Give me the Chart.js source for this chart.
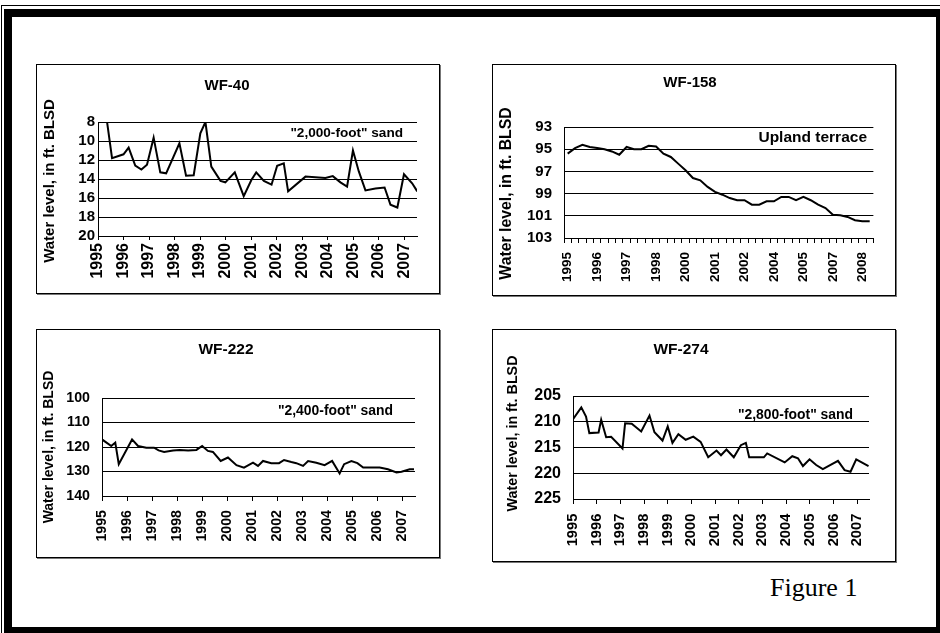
<!DOCTYPE html>
<html>
<head>
<meta charset="utf-8">
<script src="https://cdn.jsdelivr.net/npm/chart.js@4.4.1/dist/chart.umd.min.js"></script>
<style>
  body { margin:0; background:#fff; width:940px; height:633px; overflow:hidden; position:relative; }
  .frameThin { position:absolute; left:1px; top:5px; width:960px; height:700px; border:1px solid #000; }
  .frameThick { position:absolute; left:4px; top:9px; width:940px; height:626px; border:8px solid #000; box-sizing:border-box; }
  .chartBox { position:absolute; border:1px solid #000; box-shadow:1px 1px 0 #777; box-sizing:border-box; background:#fff; }
  .chartBox canvas { display:block; }
  .figLabel { position:absolute; left:770px; top:575px; font-family:"Liberation Serif","Times New Roman",serif; font-size:26px; line-height:26px; }
</style>
</head>
<body>
<div class="frameThin"></div>
<div class="frameThick"></div>
<div class="figLabel">Figure 1</div>
<script>
//-----------------------------------------------------------------------------
// water levels (ft below land surface)
//-----------------------------------------------------------------------------
const wf40Years  = [1995.0, 1995.17, 1995.35, 1995.55, 1996.0, 1996.2, 1996.46, 1996.7, 1996.92, 1997.18, 1997.44, 1997.67,
                    1998.19, 1998.45, 1998.75, 1999.01, 1999.21, 1999.44, 1999.8, 1999.99, 2000.36, 2000.71, 2001.01, 2001.2,
                    2001.5, 2001.8, 2002.02, 2002.28, 2002.45, 2003.13, 2003.91, 2004.2, 2004.5, 2004.76, 2004.99, 2005.22,
                    2005.48, 2005.87, 2006.23, 2006.46, 2006.73, 2006.99, 2007.31, 2007.51];
const wf40Levels = [8.15, 6.5, 7.9, 11.8, 11.4, 10.7, 12.6, 13.0, 12.5, 9.65, 13.3, 13.4,
                    10.25, 13.65, 13.6, 9.2, 8.0, 12.7, 14.2, 14.35, 13.3, 15.8, 14.1, 13.3,
                    14.2, 14.6, 12.6, 12.35, 15.3, 13.75, 13.9, 13.7, 14.35, 14.8, 11.0, 13.2,
                    15.2, 15.0, 14.9, 16.7, 17.0, 13.5, 14.45, 15.3];

const wf158Labels = ['1995','1995','1995','1995','1996','1996','1996','1996','1997','1997','1997','1997',
                     '1998','1998','1999','1999','2000','2000','2000','2000','2001','2001','2001','2001',
                     '2002','2002','2003','2003','2004','2004','2004','2004','2005','2005','2006','2006',
                     '2007','2007','2007','2007','2008','2008'];
const wf158Levels = [95.4, 94.9, 94.6, 94.8, 94.9, 95.0, 95.2, 95.5, 94.8, 95.0, 95.0, 94.7,
                     94.75, 95.4, 95.7, 96.3, 96.9, 97.6, 97.8, 98.4, 98.85, 99.1, 99.4, 99.6,
                     99.6, 100.0, 100.0, 99.7, 99.7, 99.3, 99.3, 99.6, 99.3, 99.6, 100.0, 100.3,
                     100.9, 100.95, 101.1, 101.4, 101.5, 101.5];

const wf222Years  = [1995.0, 1995.37, 1995.53, 1995.67, 1996.2, 1996.44, 1996.77, 1997.08, 1997.26, 1997.48, 1997.84,
                     1998.1, 1998.44, 1998.77, 1999.0, 1999.23, 1999.43, 1999.74, 2000.03, 2000.37, 2000.67,
                     2001.03, 2001.23, 2001.43, 2001.76, 2002.07, 2002.27, 2002.56, 2002.76, 2003.03, 2003.23,
                     2003.56, 2003.89, 2004.19, 2004.49, 2004.67, 2004.96, 2005.2, 2005.43, 2006.09, 2006.42,
                     2006.76, 2006.96, 2007.29, 2007.46];
const wf222Levels = [116.9, 119.6, 118.2, 127.0, 116.9, 119.6, 120.3, 120.3, 121.4, 122.0, 121.4,
                     121.2, 121.4, 121.2, 119.6, 121.6, 122.0, 125.7, 124.3, 127.4, 128.4,
                     126.4, 127.7, 125.7, 126.6, 126.6, 125.3, 126.1, 126.6, 127.7, 125.7,
                     126.4, 127.4, 125.7, 130.8, 127.0, 125.7, 126.6, 128.4, 128.4, 129.1,
                     130.4, 130.1, 129.1, 129.1];

const wf274Years  = [1995.0, 1995.35, 1995.55, 1995.69, 1996.08, 1996.19, 1996.4, 1996.61, 1997.09, 1997.2, 1997.48,
                     1997.88, 1998.23, 1998.44, 1998.78, 1999.0, 1999.2, 1999.45, 1999.76, 2000.08, 2000.39,
                     2000.71, 2001.06, 2001.25, 2001.48, 2001.79, 2002.09, 2002.3, 2002.44, 2003.06, 2003.2,
                     2003.94, 2004.26, 2004.5, 2004.71, 2004.99, 2005.27, 2005.55, 2006.19, 2006.47, 2006.72,
                     2006.96, 2007.48];
const wf274Levels = [209.5, 207.2, 209.0, 212.2, 212.1, 209.6, 213.0, 212.9, 215.2, 210.3, 210.4,
                     211.9, 208.8, 212.05, 213.65, 210.9, 214.1, 212.4, 213.5, 212.9, 213.9,
                     216.9, 215.6, 216.5, 215.4, 216.9, 214.55, 214.1, 216.9, 216.9, 216.15,
                     217.9, 216.7, 217.1, 218.6, 217.3, 218.4, 219.2, 217.6, 219.4, 219.7,
                     217.3, 218.6];

const yAxisTitle = "Water level, in ft. BLSD";
const FONT = '"Liberation Sans", Arial, sans-serif';

Chart.defaults.font.family = FONT;
Chart.defaults.color = "#000";

//-----------------------------------------------------------------------------
// per-panel layout (box = left, top, width, height on the page)
//-----------------------------------------------------------------------------
const wells = [
    { name: "WF-40",  note: '"2,000-foot" sand', box: [36, 64, 404, 230],
      years: wf40Years, levels: wf40Levels, yMin: 8, yMax: 20, yStep: 2,
      padRight: 22, yWidth: 61, xHeight: 57, titleSize: 15, titlePad: { top: 12, bottom: 27 },
      yTickSize: 15, yTickPad: 3, xTickSize: 16, tickLen: 4, xTickPad: 3,
      yTitle: [13, 116, 15], noteAt: [366, 68, 13.6] },
    { name: "WF-158", note: "Upland terrace", box: [492, 64, 404, 232],
      labels: wf158Labels, levels: wf158Levels, yMin: 93, yMax: 103, yStep: 2,
      padRight: 8, yWidth: 71, xHeight: 57, titleSize: 15, titlePad: { top: 9, bottom: 35 },
      yTickSize: 15, yTickPad: 12, xTickSize: 13.5, tickLen: 5, xTickPad: 9,
      yTitle: [14, 128.5, 15.8], noteAt: [374, 73, 15.5] },
    { name: "WF-222", note: '"2,400-foot" sand', box: [36, 329, 404, 229],
      years: wf222Years, levels: wf222Levels, yMin: 100, yMax: 140, yStep: 10,
      padRight: 24, yWidth: 65, xHeight: 61, titleSize: 15.5, titlePad: { top: 10.7, bottom: 38.7 },
      yTickSize: 14.2, yTickPad: 12, xTickSize: 14.2, tickLen: 5, xTickPad: 9,
      yTitle: [12, 117, 14], noteAt: [356, 81, 13.9] },
    { name: "WF-274", note: '"2,800-foot" sand', box: [492, 329, 404, 233],
      years: wf274Years, levels: wf274Levels, yMin: 205, yMax: 225, yStep: 5,
      padRight: 26, yWidth: 80, xHeight: 62, titleSize: 15.5, titlePad: { top: 10.7, bottom: 36.7 },
      yTickSize: 16, yTickPad: 12, xTickSize: 14.7, tickLen: 5, xTickPad: 9.7,
      yTitle: [20, 103.5, 14.3], noteAt: [360, 85, 13.9] }
];

//-----------------------------------------------------------------------------
// little plugin for the rotated axis title and the aquifer note
//-----------------------------------------------------------------------------
function notesPlugin(w) {
    return {
        id: "wellNotes",
        afterDraw(chart) {
            const ctx = chart.ctx;
            const items = [
                { text: yAxisTitle, x: w.yTitle[0], y: w.yTitle[1], size: w.yTitle[2], align: "center", rotate: true },
                { text: w.note, x: w.noteAt[0], y: w.noteAt[1], size: w.noteAt[2], align: "right", rotate: false }
            ];
            items.forEach(n => {
                ctx.save();
                ctx.font = `bold ${n.size}px ${FONT}`;
                ctx.fillStyle = "#000";
                ctx.textAlign = n.align;
                ctx.textBaseline = "middle";
                ctx.translate(n.x, n.y);
                if (n.rotate) ctx.rotate(-Math.PI / 2);
                ctx.fillText(n.text, 0, 0);
                ctx.restore();
            });
        }
    };
}

//-----------------------------------------------------------------------------
// build one hydrograph panel
//-----------------------------------------------------------------------------
function drawWell(w) {
    const box = document.createElement("div");
    box.className = "chartBox";
    box.style.left = `${w.box[0]}px`;
    box.style.top = `${w.box[1]}px`;
    box.style.width = `${w.box[2]}px`;
    box.style.height = `${w.box[3]}px`;
    const canvas = document.createElement("canvas");
    canvas.width = w.box[2] - 2;
    canvas.height = w.box[3] - 2;
    box.appendChild(canvas);
    document.body.appendChild(box);

    const isCategory = !!w.labels;
    const xTicks = {
        autoSkip: false,
        minRotation: 90,
        maxRotation: 90,
        padding: w.xTickPad,
        color: "#000",
        font: { size: w.xTickSize, weight: "bold" }
    };

    let xScale;
    let data;
    if (isCategory) {
        // excel category axis, every 4th sample labelled
        xScale = {
            type: "category",
            offset: true,
            grid: { offset: true, drawOnChartArea: false, drawTicks: true, tickLength: w.tickLen, color: "#000" },
            ticks: { ...xTicks, callback: (v, i) => (i % 4 === 0 ? w.labels[i] : "") }
        };
        data = { labels: w.labels, datasets: [{ data: w.levels }] };
    } else {
        xScale = {
            type: "linear",
            min: 1995,
            max: 2007.5,
            grid: { drawOnChartArea: false, drawTicks: true, tickLength: w.tickLen, color: "#000" },
            ticks: { ...xTicks, stepSize: 1, includeBounds: false, callback: v => String(v) }
        };
        data = { datasets: [{ data: w.years.map((yr, i) => ({ x: yr, y: w.levels[i] })) }] };
    }
    xScale.border = { display: true, color: "#000", width: 1 };
    xScale.afterFit = s => { s.height = w.xHeight; };

    data.datasets[0].borderColor = "#000";
    data.datasets[0].borderWidth = 2;
    data.datasets[0].pointRadius = 0;
    data.datasets[0].tension = 0;
    data.datasets[0].fill = false;

    new Chart(canvas.getContext("2d"), {
        type: "line",
        data: data,
        options: {
            responsive: false,
            animation: false,
            layout: { padding: { left: 0, top: 0, right: w.padRight, bottom: 0 } },
            plugins: {
                legend: { display: false },
                tooltip: { enabled: false },
                title: {
                    display: true,
                    text: w.name,
                    color: "#000",
                    font: { size: w.titleSize, weight: "bold" },
                    padding: w.titlePad
                }
            },
            scales: {
                x: xScale,
                y: {
                    type: "linear",
                    reverse: true,
                    min: w.yMin,
                    max: w.yMax,
                    afterFit: s => { s.width = w.yWidth; },
                    border: { display: true, color: "#000", width: 1 },
                    grid: { color: "#000", lineWidth: 1, drawTicks: false },
                    ticks: { stepSize: w.yStep, autoSkip: false, padding: w.yTickPad, color: "#000",
                             font: { size: w.yTickSize, weight: "bold" } }
                }
            }
        },
        plugins: [notesPlugin(w)]
    });
}

wells.forEach(drawWell);
</script>
</body>
</html>
